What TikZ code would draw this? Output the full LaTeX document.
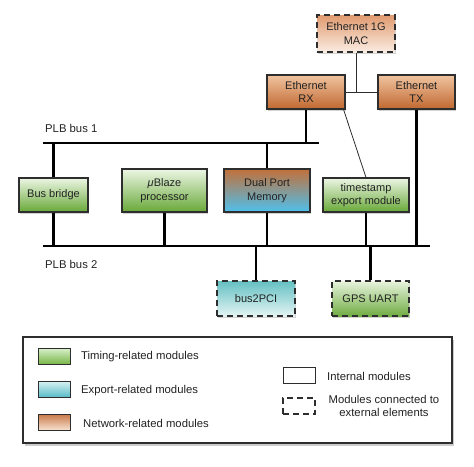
\documentclass[tikz,border=0pt]{standalone}
\usepackage{fontspec}
\setmainfont{Liberation Sans}
\usetikzlibrary{shadows,calc}
\definecolor{edge}{HTML}{2E2E2E}
\definecolor{txt}{HTML}{222222}
\tikzset{
  box/.style={draw=edge, line width=1.1pt, align=center, text=txt, inner sep=1pt,
    font=\fontsize{11}{13.5}\selectfont,
    drop shadow={opacity=0.35, shadow xshift=1.2pt, shadow yshift=-1.5pt}},
  ext/.style={dash pattern=on 6pt off 4pt, line width=1.8pt},
  green/.style={top color={rgb,255:red,236;green,246;blue,228}, bottom color={rgb,255:red,104;green,168;blue,56}},
  orange/.style={top color={rgb,255:red,240;green,196;blue,160}, bottom color={rgb,255:red,192;green,104;blue,48}},
  bus/.style={line width=2.8pt, draw=black},
  thin/.style={line width=0.8pt, draw=edge},
  lbl/.style={text=txt, font=\fontsize{11.3}{13}\selectfont, inner sep=0pt},
  swatch/.style={draw=edge, line width=1pt, minimum width=32pt, minimum height=16pt, inner sep=0pt},
}
\begin{document}
\begin{tikzpicture}[x=1pt,y=-1pt]
\useasboundingbox (0,0) rectangle (474,466);

% bus coordinates
\coordinate (b1l) at (43,143);
\coordinate (b1r) at (319,143);
\coordinate (b2l) at (43,246);
\coordinate (b2r) at (430,246);

% nodes
\node[box, ext, top color={rgb,255:red,224;green,154;blue,110}, bottom color={rgb,255:red,250;green,236;blue,226}, minimum width=78pt, minimum height=37pt] (mac) at (356,33.5) {Ethernet 1G\\MAC};
\node[box, orange, minimum width=78pt, minimum height=34pt] (rx) at (306,92) {Ethernet\\RX};
\node[box, orange, minimum width=77pt, minimum height=34pt] (tx) at (416.5,92) {Ethernet\\TX};

\node[box, green, minimum width=69pt, minimum height=34pt] (bridge) at (53.5,195) {Bus bridge};
\node[box, green, minimum width=85pt, minimum height=43pt] (ublaze) at (164.5,190.5) {\textit{μ}Blaze\\processor};
\node[box, top color={rgb,255:red,194;green,112;blue,58}, bottom color={rgb,255:red,78;green,192;blue,238}, minimum width=86pt, minimum height=43pt] (dpm) at (267,190.5) {Dual Port\\Memory};
\node[box, green, minimum width=86pt, minimum height=34pt] (ts) at (366,195) {timestamp\\export module};

\node[box, ext, top color={rgb,255:red,100;green,192;blue,194}, bottom color={rgb,255:red,228;green,244;blue,244}, minimum width=78pt, minimum height=35pt] (pci) at (256,298.5) {bus2PCI};
\node[box, ext, top color={rgb,255:red,232;green,244;blue,222}, bottom color={rgb,255:red,112;green,172;blue,66}, minimum width=77pt, minimum height=35pt] (gps) at (370.5,298.5) {GPS UART};

% buses
\draw[bus] (b1l) -- (b1r);
\draw[bus] (b2l) -- (b2r);
\node[lbl, anchor=west] (lb1) at (45,128) {PLB bus 1};
\node[lbl, anchor=west] (lb2) at (45,264) {PLB bus 2};

% bus connections
\draw[bus] (bridge.north) -- (bridge.north |- b1l);
\draw[bus] (bridge.south) -- (bridge.south |- b2l);
\draw[bus] (ublaze.south) -- (ublaze.south |- b2l);
\draw[bus] (dpm.north) -- (dpm.north |- b1l);
\draw[bus] (dpm.south) -- (dpm.south |- b2l);
\draw[bus] (ts.south) -- (ts.south |- b2l);
\draw[bus] (rx.south) -- (rx.south |- b1l);
\draw[bus] (tx.south) -- (tx.south |- b2l);
\draw[bus] (pci.north) -- (pci.north |- b2l);
\draw[bus] (gps.north) -- (gps.north |- b2l);

% thin connections
\draw[thin] (mac.south) -- (mac.south |- rx.east);
\draw[thin] (rx.east) -- (tx.west);
\coordinate (rxo) at ($(rx.south east)+(-2,0)$);
\draw[thin] (rxo) -- (ts.north);

% legend
\node[draw=edge, line width=1.1pt, fill=white, minimum width=429pt, minimum height=106pt, inner sep=0pt,
  drop shadow={opacity=0.4, shadow xshift=1.5pt, shadow yshift=-2.5pt}] (leg) at (237.5,390) {};
\node[swatch, top color={rgb,255:red,218;green,240;blue,204}, bottom color={rgb,255:red,120;green,182;blue,72}] (sw1) at (54,356) {};
\node[swatch, top color={rgb,255:red,218;green,242;blue,244}, bottom color={rgb,255:red,88;green,188;blue,198}] (sw2) at (54,389) {};
\node[swatch, top color={rgb,255:red,202;green,124;blue,76}, bottom color={rgb,255:red,248;green,228;blue,212}] (sw3) at (54,422.5) {};
\node[lbl, anchor=west] (t1) at (81,357) {Timing-related modules};
\node[lbl, anchor=west] (t2) at (81,391) {Export-related modules};
\node[lbl, anchor=west] (t3) at (83,423) {Network-related modules};
\node[swatch, fill=white] (sw4) at (299,375) {};
\node[swatch, ext, line width=1.6pt] (sw5) at (299,406) {};
\node[lbl, anchor=west] (t4) at (327,376) {Internal modules};
\node[lbl, align=center, font=\fontsize{11.3}{12.5}\selectfont] (t5) at (384,406) {Modules connected to\\external elements};
\end{tikzpicture}
\end{document}
